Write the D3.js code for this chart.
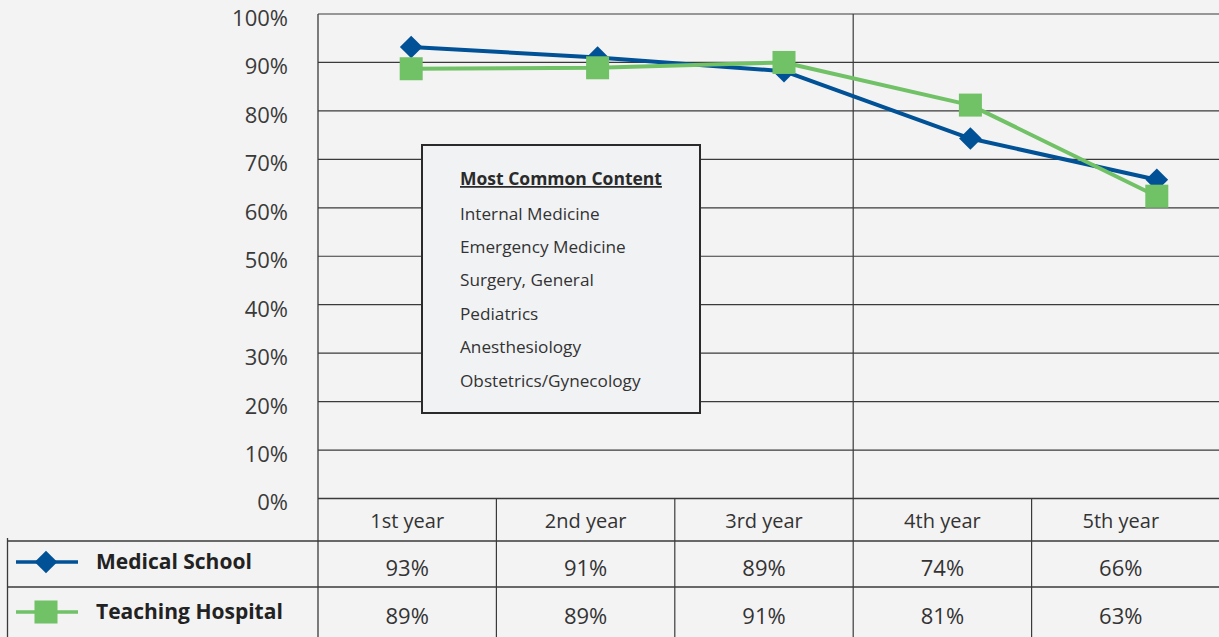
<!DOCTYPE html>
<html>
<head>
<meta charset="utf-8">
<script src="https://cdn.jsdelivr.net/npm/d3@7"></script>
<style>
  html, body { margin: 0; padding: 0; background: #f3f3f3; }
  svg { display: block; }
  text { font-family: "Open Sans", "Noto Sans", sans-serif; }
</style>
</head>
<body>
<svg id="chart" width="1219" height="637"></svg>
<script>
// ---- data ----
const years = ["1st year", "2nd year", "3rd year", "4th year", "5th year"];
const seriesNames = ["Medical School", "Teaching Hospital"];
// values as plotted on the chart (percent)
const medicalSchool = [93.2, 91.0, 88.2, 74.3, 65.8];
const teachingHospital = [88.7, 88.9, 90.0, 81.2, 62.4];
// values printed in the data table
const medicalSchoolLabels = ["93%", "91%", "89%", "74%", "66%"];
const teachingHospitalLabels = ["89%", "89%", "91%", "81%", "63%"];
const yTicks = [0, 10, 20, 30, 40, 50, 60, 70, 80, 90, 100];
const boxTitle = "Most Common Content";
const boxItems = ["Internal Medicine", "Emergency Medicine", "Surgery, General", "Pediatrics", "Anesthesiology", "Obstetrics/Gynecology"];

// ---- layout ----
const W = 1219, H = 637;
const plotLeft = 318, plotTop = 14, plotBottom = 498.5;
const rowH = [498.5, 541, 587, 637];
const colors = { "Medical School": "#005196", "Teaching Hospital": "#71c167" };
const gridColor = "#3a3a3a";
const textColor = "#333333";

const svg = d3.select("#chart");

const y = d3.scaleLinear().domain([0, 100]).range([plotBottom, plotTop]);
const xPoint = d3.scalePoint().domain(years).range([plotLeft, 1250]).padding(0.5);
const xBand = d3.scaleBand().domain(years).range([plotLeft, 1210]);

// ---- gridlines (horizontal) ----
const grid = svg.append("g");
grid.selectAll("line.h").data(yTicks.filter(t => t > 0)).join("line")
  .attr("x1", plotLeft).attr("x2", W)
  .attr("y1", d => y(d)).attr("y2", d => y(d))
  .attr("stroke", gridColor).attr("stroke-width", 1.2);

// y axis tick labels via d3 axis
const yAxis = d3.axisLeft(y).tickValues(yTicks).tickFormat(d => d + "%").tickSize(0).tickPadding(30);
const yAxisG = svg.append("g").attr("transform", `translate(${plotLeft},0)`).call(yAxis);
yAxisG.select(".domain").remove();
yAxisG.selectAll("text")
  .attr("font-family", "'Open Sans', sans-serif")
  .attr("font-size", 22).attr("fill", "#3a3a3a")
  .attr("dy", "0.52em");

// vertical lines
svg.append("line").attr("x1", plotLeft).attr("x2", plotLeft).attr("y1", plotTop).attr("y2", H)
  .attr("stroke", gridColor).attr("stroke-width", 1.3);
svg.append("line").attr("x1", xBand("4th year")).attr("x2", xBand("4th year")).attr("y1", plotTop).attr("y2", H)
  .attr("stroke", gridColor).attr("stroke-width", 1.2);

// ---- table ----
const table = svg.append("g");
table.append("line").attr("x1", plotLeft).attr("x2", W).attr("y1", rowH[0]).attr("y2", rowH[0])
  .attr("stroke", gridColor).attr("stroke-width", 1.3);
[rowH[1], rowH[2]].forEach(yy => {
  table.append("line").attr("x1", 7).attr("x2", W).attr("y1", yy).attr("y2", yy)
    .attr("stroke", gridColor).attr("stroke-width", 1.3);
});
table.append("line").attr("x1", 7.5).attr("x2", 7.5).attr("y1", 538).attr("y2", H)
  .attr("stroke", gridColor).attr("stroke-width", 1.3);
years.slice(1).forEach(yr => {
  if (yr === "4th year") return;
  table.append("line").attr("x1", xBand(yr)).attr("x2", xBand(yr)).attr("y1", rowH[0]).attr("y2", H)
    .attr("stroke", gridColor).attr("stroke-width", 1.2);
});
table.selectAll("text.hdr").data(years).join("text")
  .attr("x", d => xBand(d) + xBand.bandwidth() / 2).attr("y", 527.5)
  .attr("text-anchor", "middle").attr("font-size", 20).attr("fill", textColor)
  .text(d => d);
const rowsText = [medicalSchoolLabels, teachingHospitalLabels];
const rowBase = [576, 624];
rowsText.forEach((labels, i) => {
  table.selectAll("text.v" + i).data(labels).join("text")
    .attr("x", (d, j) => xBand(years[j]) + xBand.bandwidth() / 2).attr("y", rowBase[i])
    .attr("text-anchor", "middle").attr("font-size", 22).attr("fill", textColor)
    .text(d => d);
});

// legend cells
const legendY = [562, 612];
function drawMarker(g, name, cx, cy) {
  if (name === "Medical School") {
    g.append("rect").attr("x", cx - 8).attr("y", cy - 8).attr("width", 16).attr("height", 16)
      .attr("transform", `rotate(45 ${cx} ${cy})`).attr("fill", colors[name]);
  } else {
    g.append("rect").attr("x", cx - 11.5).attr("y", cy - 11.5).attr("width", 23).attr("height", 23)
      .attr("fill", colors[name]);
  }
}
seriesNames.forEach((name, i) => {
  const g = svg.append("g");
  g.append("line").attr("x1", 16).attr("x2", 78).attr("y1", legendY[i]).attr("y2", legendY[i])
    .attr("stroke", colors[name]).attr("stroke-width", 3.5);
  drawMarker(g, name, 46, legendY[i]);
  g.append("text").attr("x", 96).attr("y", legendY[i] + 6.5)
    .attr("font-size", 21).attr("font-weight", "bold").attr("fill", "#222")
    .text(name);
});

// ---- content box ----
const box = svg.append("g");
box.append("rect").attr("x", 422).attr("y", 145).attr("width", 278).attr("height", 268)
  .attr("fill", "#f1f2f4").attr("stroke", "#2a2a2a").attr("stroke-width", 2);
box.append("text").attr("x", 460).attr("y", 185)
  .attr("font-size", 17.5).attr("font-weight", "bold").attr("fill", "#2a2a2a")
  .attr("text-decoration", "underline").text(boxTitle);
box.selectAll("text.item").data(boxItems).join("text")
  .attr("x", 460).attr("y", (d, i) => 219.5 + i * 33.4)
  .attr("font-size", 17.2).attr("fill", textColor).text(d => d);

// ---- series lines ----
const seriesData = [
  { name: "Medical School", values: medicalSchool },
  { name: "Teaching Hospital", values: teachingHospital }
];
const line = d3.line().x((d, i) => xPoint(years[i])).y(d => y(d));
const plotG = svg.append("g");
seriesData.forEach(s => {
  plotG.append("path").datum(s.values).attr("d", line)
    .attr("fill", "none").attr("stroke", colors[s.name]).attr("stroke-width", 4)
    .attr("stroke-linejoin", "round");
});
seriesData.forEach(s => {
  s.values.forEach((v, i) => drawMarker(plotG, s.name, xPoint(years[i]), y(v)));
});
</script>
</body>
</html>
